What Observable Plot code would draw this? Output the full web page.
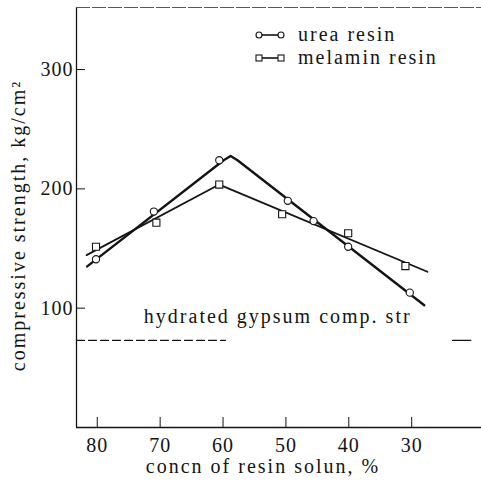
<!DOCTYPE html>
<html><head><meta charset="utf-8">
<script src="https://cdn.jsdelivr.net/npm/d3@7"></script>
<script src="https://cdn.jsdelivr.net/npm/@observablehq/plot@0.6"></script>
<style>
html,body{margin:0;padding:0;background:#fff;}
#chart svg{display:block;}
</style></head><body><div id="chart"></div>
<script>
// ---- data ----
const concTicks = [80, 70, 60, 50, 40, 30];
const strengthTicks = [100, 200, 300];

// measured points
const ureaConc = [80.2, 71, 60.6, 49.7, 45.6, 40.1, 30.3];
const ureaStrength = [141, 181, 224, 190, 173, 151.5, 113];
const melaminConc = [80.2, 70.6, 60.6, 50.6, 40.1, 31];
const melaminStrength = [151.5, 171.7, 203.6, 178.7, 162.8, 135.3];

// fitted curves drawn through the points
const ureaFitConc = [81.6, 59.9, 58.8, 57.7, 28];
const ureaFitStrength = [135, 224, 227.5, 224, 102.5];
const melaminFitConc = [81.7, 60.6, 27.5];
const melaminFitStrength = [144.5, 203.6, 130.5];

// hydrated gypsum reference level
const gypsumStrength = 73;
const gypsumDashedConc = [83.3, 59.6];
const gypsumSolidConc = [23.5, 20.6];
const gypsumLabel = "hydrated gypsum comp. str";
const gypsumLabelConc = 51.3;
const gypsumLabelStrength = 93;

const seriesNames = ["urea resin", "melamin resin"];
const xTitle = "concn of resin solun, %";
const yTitle = "compressive strength, kg/cm²";

const xDomain = [83.3, 18.9];
const yDomain = [0, 352];

// ---- build tables ----
const pts = (xs, ys, s) => xs.map((x, i) => ({conc: x, strength: ys[i], series: s}));
const ureaPts = pts(ureaConc, ureaStrength, seriesNames[0]);
const melPts = pts(melaminConc, melaminStrength, seriesNames[1]);
const ureaFit = pts(ureaFitConc, ureaFitStrength, seriesNames[0]);
const melFit = pts(melaminFitConc, melaminFitStrength, seriesNames[1]);
const gypDash = gypsumDashedConc.map(c => ({conc: c, strength: gypsumStrength}));
const gypSolid = gypsumSolidConc.map(c => ({conc: c, strength: gypsumStrength}));

const ink = "#141414";
const font = "Liberation Serif";

const legendMark = () => {
  const g = d3.create("svg:g").attr("font-family", font).attr("font-size", 20).attr("fill", ink);
  seriesNames.forEach((name, i) => {
    const y = 35 + i * 23, x0 = 259, x1 = 281;
    g.append("line").attr("x1", x0).attr("x2", x1).attr("y1", y).attr("y2", y)
      .attr("stroke", ink).attr("stroke-width", 1.6);
    [x0, x1].forEach(x => {
      if (i === 0) g.append("circle").attr("cx", x).attr("cy", y).attr("r", 3)
        .attr("fill", "white").attr("stroke", ink).attr("stroke-width", 1.1);
      else g.append("rect").attr("x", x - 3).attr("y", y - 3).attr("width", 6).attr("height", 6)
        .attr("fill", "white").attr("stroke", ink).attr("stroke-width", 1.1);
    });
    g.append("text").attr("x", 298).attr("y", y).attr("dy", "0.32em")
      .attr("text-anchor", "start").style("letter-spacing", "2px").text(name);
  });
  return g.node();
};

const chart = Plot.plot({
  width: 481,
  height: 487,
  marginLeft: 76,
  marginRight: 0,
  marginTop: 7,
  marginBottom: 60,
  style: {fontFamily: font, fontSize: "20px", color: ink, background: "white"},
  x: {domain: xDomain, ticks: concTicks},
  y: {domain: yDomain, ticks: strengthTicks},
  marks: [
    // frame lines
    Plot.ruleX([xDomain[0]], {stroke: ink, strokeWidth: 1.3}),
    Plot.ruleY([yDomain[0]], {stroke: ink, strokeWidth: 1.4}),
    Plot.ruleY([yDomain[1]], {stroke: "#555", strokeWidth: 1, strokeDasharray: "14,2"}),
    // axes with inward ticks
    Plot.axisX(concTicks, {tickSize: -10, tickPadding: 20, label: null, fontSize: 20, stroke: ink}),
    Plot.axisY(strengthTicks, {tickSize: -9, tickPadding: 12, label: null, fontSize: 20, stroke: ink}),
    // gypsum reference
    Plot.line(gypDash, {x: "conc", y: "strength", stroke: ink, strokeWidth: 1.2, strokeDasharray: "8,4"}),
    Plot.line(gypSolid, {x: "conc", y: "strength", stroke: ink, strokeWidth: 1.2}),
    Plot.text([gypsumLabel], {x: () => gypsumLabelConc, y: () => gypsumLabelStrength, text: d => d,
      fontSize: 20, fill: ink}),
    // fitted lines
    Plot.line(ureaFit, {x: "conc", y: "strength", stroke: ink, strokeWidth: 2.4}),
    Plot.line(melFit, {x: "conc", y: "strength", stroke: ink, strokeWidth: 1.8}),
    // measured points
    Plot.dot(ureaPts, {x: "conc", y: "strength", r: 3.6, symbol: "circle", fill: "white", stroke: ink, strokeWidth: 1.1}),
    Plot.dot(melPts, {x: "conc", y: "strength", r: 4, symbol: "square", fill: "white", stroke: ink, strokeWidth: 1.1}),
    // axis titles
    Plot.text([xTitle], {frameAnchor: "bottom", text: d => d, dy: 45, dx: -16, textAnchor: "middle", fontSize: 20, fill: ink}),
    Plot.text([yTitle], {frameAnchor: "left", text: d => d, dx: -58, dy: 8, rotate: -90, textAnchor: "middle", fontSize: 20, fill: ink}),
    legendMark
  ]
});
d3.select(chart).selectAll("text").style("letter-spacing", "2px");
d3.select(chart).selectAll('g[aria-label="x-axis tick label"] text, g[aria-label="y-axis tick label"] text').style("letter-spacing", "1px");
document.getElementById("chart").appendChild(chart);
</script>
</body></html>
